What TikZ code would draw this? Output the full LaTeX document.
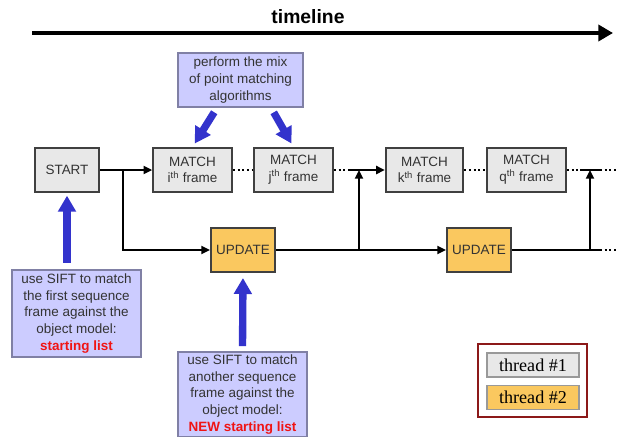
\documentclass[tikz,border=0pt]{standalone}
\usepackage{fontspec}
\setmainfont{Liberation Sans}
\newfontfamily\legendfont{Liberation Serif}
\usetikzlibrary{positioning, arrows.meta}

\definecolor{boxgray}{RGB}{232,232,232}
\definecolor{updorange}{RGB}{250,200,95}
\definecolor{notelilac}{RGB}{204,204,255}
\definecolor{noteedge}{RGB}{128,128,165}
\definecolor{arrowblue}{RGB}{51,51,204}
\definecolor{legendred}{RGB}{140,25,25}
\definecolor{listred}{RGB}{240,20,20}
\newcommand{\boxfont}{\fontsize{10.1pt}{12.5pt}\selectfont}

\tikzset{
	framebox/.style={draw=black!75,line width=1.5pt,fill=boxgray,minimum width=59pt,minimum height=33pt,inner sep=0pt,align=center,font=\boxfont,text=black!80},
	updatebox/.style={framebox,fill=updorange,minimum width=48pt},
	notebox/.style={draw=noteedge,line width=1.1pt,fill=notelilac,minimum width=96.75pt,inner sep=0pt,align=center,font=\boxfont,text=black!80},
	threadbox/.style={draw=black!40,line width=0.8pt,minimum width=69pt,minimum height=18pt,inner sep=0pt,font=\legendfont\fontsize{13.6pt}{14pt}\selectfont},
	flow/.style={line width=1.5pt,-{Triangle[length=6.5pt,width=6pt]}},
	plainline/.style={line width=1.5pt},
	dotline/.style={line width=1.5pt,dotted},
	bigarrow/.style={arrowblue,line width=5.5pt,-{Triangle[length=12pt,width=13pt]},shorten <=4pt,shorten >=3pt},
}

\begin{document}
\begin{tikzpicture}[x=0.75pt,y=-0.75pt]
	\useasboundingbox (0,0) rectangle (617,436);

	%timeline
	\coordinate (tstart) at (32,33);
	\coordinate (tend) at (613,33);
	\draw[line width=3pt,-{Triangle[length=11pt,width=12pt]}] (tstart) -- (tend);
	\node (tlabel) at (308,17) [font=\fontsize{14.5pt}{17pt}\selectfont\bfseries] {timeline};

	\node (start) at (67,170) [framebox,minimum width=48pt] {START};
	\node (matchi) at (192.5,170) [framebox] {MATCH\\i\textsuperscript{th} frame};
	\node (matchj) at (293.5,170) [framebox] {MATCH\\j\textsuperscript{th} frame};
	\node (matchk) at (424.5,170) [framebox,minimum width=58pt] {MATCH\\k\textsuperscript{th} frame};
	\node (matchq) at (526.5,170) [framebox] {MATCH\\q\textsuperscript{th} frame};
	\node (update1) at (243,250) [updatebox] {UPDATE};
	\node (update2) at (479,250) [updatebox] {UPDATE};

	\node (mix) at (240.5,80) [notebox,minimum width=93.75pt,minimum height=40.5pt] {perform the mix\\of point matching\\algorithms};
	\node (sift1) at (76.5,313.5) [notebox,minimum height=65.25pt] {use SIFT to match\\the first sequence\\frame against the\\object model:\\\textcolor{listred}{\bfseries starting list}};
	\node (sift2) at (242.5,394.5) [notebox,minimum height=64pt] {use SIFT to match\\another sequence\\frame against the\\object model:\\\textcolor{listred}{\bfseries NEW starting list}};

	\coordinate (split1) at (123,170);
	\coordinate (gap1) at (350,170);
	\coordinate (split2) at (359,250);
	\coordinate (join2) at (359,170);
	\coordinate (gap2) at (580,170);
	\coordinate (gap3) at (600,170);
	\coordinate (end1) at (617,170);
	\coordinate (split3) at (590,250);
	\coordinate (join3) at (590,170);
	\coordinate (gap4) at (600,250);
	\coordinate (end2) at (617,250);

	\draw[flow] (start) -- (matchi);
	\draw[flow] (split1) |- (update1);
	\draw[dotline] (matchi) -- (matchj);
	\draw[dotline] (matchj) -- (gap1);
	\draw[flow] (gap1) -- (matchk);
	\draw[dotline] (matchk) -- (matchq);
	\draw[dotline] (matchq) -- (gap2);
	\draw[plainline] (gap2) -- (gap3);
	\draw[dotline] (gap3) -- (end1);
	\draw[flow] (update1) -- (update2);
	\draw[flow] (split2) -- (join2);
	\draw[plainline] (update2) -- (gap4);
	\draw[dotline] (gap4) -- (end2);
	\draw[flow] (split3) -- (join3);

	\draw[bigarrow] ([xshift=-17.6pt]mix.south) -- (matchi.north);
	\draw[bigarrow] ([xshift=22.9pt]mix.south) -- (matchj.north);
	\draw[bigarrow,shorten <=5pt,shorten >=2pt] (sift1.north -| start.south) -- (start.south);
	\draw[bigarrow,shorten <=3.75pt,shorten >=3.75pt] (sift2.north) -- (update1.south);

	%legend
	\node (legend) at (532.5,380.5) [draw=legendred,line width=2pt,minimum width=81.75pt,minimum height=54.75pt] {};
	\node (thread1) at (533,365) [threadbox,fill=boxgray] {thread \#1};
	\node (thread2) at (533,397.5) [threadbox,fill=updorange] {thread \#2};
\end{tikzpicture}
\end{document}
